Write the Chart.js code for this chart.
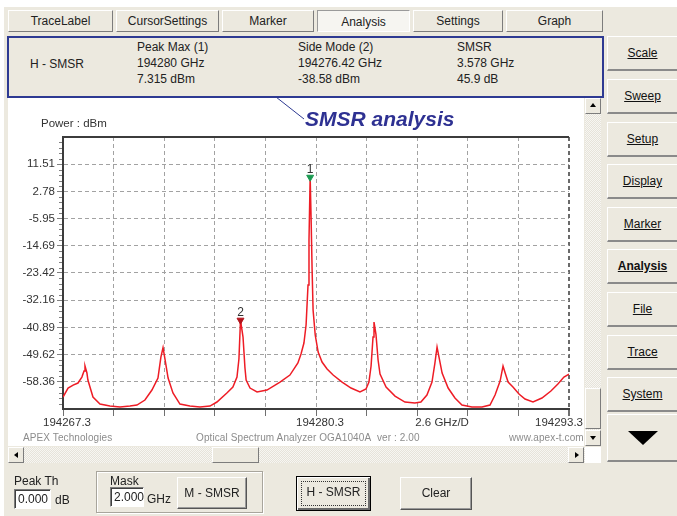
<!DOCTYPE html>
<html>
<head>
<meta charset="utf-8">
<script src="https://cdn.jsdelivr.net/npm/chart.js@4.4.0/dist/chart.umd.min.js"></script>
<style>
body { margin:0; width:677px; height:516px; background:#fff; position:relative; overflow:hidden;
       font-family:"Liberation Sans", Arial, sans-serif; font-size:12px; color:#222; }
.a { position:absolute; }
#win { left:4px; top:7px; width:673px; height:509px; background:#ece9df; }
.tab { position:absolute; top:10px; height:22px; box-sizing:border-box; background:#ece9df;
       border:1px solid; border-color:#fff #7c7c7c #7c7c7c #fff; text-align:center; line-height:20px; }
.tab.on { background:#f6f5f1; border-color:#9a9a9a #fff #fff #9a9a9a; line-height:22px; }
#info { left:7px; top:36px; width:597px; height:62px; box-sizing:border-box; border:2px solid #2e3a92; background:#ece9df; }
.txt { position:absolute; line-height:16px; white-space:nowrap; }
.rb { position:absolute; left:607px; width:70px; height:35px; box-sizing:border-box; background:#ece9df;
      border-top:1px solid #fff; border-left:1px solid #fff; border-bottom:2px solid #8a8a8a;
      text-align:center; line-height:33px; text-decoration:underline; color:#111; }
#plotbox { left:8px; top:98px; width:576px; height:348px; background:#fff; }
.hatch { background:repeating-conic-gradient(#f7f6f2 0 25%, #e6e3da 0 50%) 0 0/2px 2px; }
.sb { position:absolute; box-sizing:border-box; background:#ece9df; border:1px solid; border-color:#fff #7c7c7c #7c7c7c #fff; }
.arr { position:absolute; width:0; height:0; border:3px solid transparent; }
.inp { position:absolute; box-sizing:border-box; background:#fff; border:1px solid; border-color:#7c7c7c #fff #fff #7c7c7c;
       box-shadow:inset 1px 1px #404040; padding-left:3px; line-height:18px; }
.btn { position:absolute; box-sizing:border-box; background:#ece9df; border:1px solid; border-color:#fff #555 #555 #fff;
       box-shadow:inset -1px -1px #9a9a9a; text-align:center; }
.foot { position:absolute; top:432px; font-size:10px; color:#8c8c8c; white-space:nowrap; letter-spacing:0.1px; }
</style>
</head>
<body>
<div id="win" class="a"></div>

<div class="tab" style="left:8px;width:105px;">TraceLabel</div>
<div class="tab" style="left:116px;width:103px;">CursorSettings</div>
<div class="tab" style="left:222px;width:92px;">Marker</div>
<div class="tab on" style="left:317px;width:93px;">Analysis</div>
<div class="tab" style="left:413px;width:90px;">Settings</div>
<div class="tab" style="left:506px;width:97px;">Graph</div>

<div id="info" class="a"></div>
<div class="txt" style="left:30px;top:56px;">H - SMSR</div>
<div class="txt" style="left:137px;top:39px;">Peak Max (1)</div>
<div class="txt" style="left:137px;top:55px;">194280 GHz</div>
<div class="txt" style="left:137px;top:71px;">7.315 dBm</div>
<div class="txt" style="left:298px;top:39px;">Side Mode (2)</div>
<div class="txt" style="left:298px;top:55px;">194276.42 GHz</div>
<div class="txt" style="left:298px;top:71px;">-38.58 dBm</div>
<div class="txt" style="left:457px;top:39px;">SMSR</div>
<div class="txt" style="left:457px;top:55px;">3.578 GHz</div>
<div class="txt" style="left:457px;top:71px;">45.9 dB</div>

<div class="rb" style="top:36px;">Scale</div>
<div class="rb" style="top:79px;">Sweep</div>
<div class="rb" style="top:122px;">Setup</div>
<div class="rb" style="top:164px;">Display</div>
<div class="rb" style="top:207px;">Marker</div>
<div class="rb" style="top:249px;font-weight:bold;">Analysis</div>
<div class="rb" style="top:292px;">File</div>
<div class="rb" style="top:335px;">Trace</div>
<div class="rb" style="top:377px;">System</div>
<div class="rb" style="top:414px;height:48px;text-decoration:none;">
  <div class="arr" style="left:20px;top:16px;border-width:14px 15px 0 15px;border-top-color:#000;"></div>
</div>

<div id="plotbox" class="a">
  <canvas id="osaChart" width="576" height="348"></canvas>
</div>

<!-- vertical scrollbar -->
<div class="a hatch" style="left:585px;top:98px;width:16px;height:348px;"></div>
<div class="sb" style="left:585px;top:98px;width:16px;height:16px;">
  <div class="arr" style="left:4px;top:4px;border-width:0 3px 4px 3px;border-bottom-color:#000;"></div>
</div>
<div class="sb" style="left:585px;top:388px;width:16px;height:41px;"></div>
<div class="sb" style="left:585px;top:430px;width:16px;height:16px;">
  <div class="arr" style="left:4px;top:5px;border-width:4px 3px 0 3px;border-top-color:#000;"></div>
</div>

<!-- horizontal scrollbar -->
<div class="a hatch" style="left:8px;top:447px;width:577px;height:16px;"></div>
<div class="sb" style="left:8px;top:447px;width:16px;height:16px;">
  <div class="arr" style="left:5px;top:4px;border-width:3px 4px 3px 0;border-right-color:#000;"></div>
</div>
<div class="sb" style="left:212px;top:447px;width:47px;height:16px;"></div>
<div class="sb" style="left:568px;top:447px;width:16px;height:16px;">
  <div class="arr" style="left:6px;top:4px;border-width:3px 0 3px 4px;border-left-color:#000;"></div>
</div>
<div class="a" style="left:585px;top:447px;width:16px;height:16px;background:#fff;"></div>

<!-- chart footer texts -->
<div class="foot" style="left:23px;">APEX Technologies</div>
<div class="foot" style="left:196px;">Optical Spectrum Analyzer OGA1040A&nbsp;&nbsp;ver : 2.00</div>
<div class="foot" style="left:509px;">www.apex-t.com</div>

<!-- annotation -->
<svg class="a" style="left:0;top:0;" width="677" height="516">
  <line x1="276" y1="97" x2="304" y2="119" stroke="#2e3a92" stroke-width="1"/>
</svg>
<div class="a" style="left:305px;top:108px;font-size:21px;line-height:21px;font-weight:bold;font-style:italic;color:#2e3192;white-space:nowrap;">SMSR analysis</div>

<!-- bottom controls -->
<div class="txt" style="left:14px;top:473px;">Peak Th</div>
<div class="inp" style="left:14px;top:489px;width:37px;height:20px;">0.000</div>
<div class="txt" style="left:55px;top:492px;">dB</div>

<div class="a" style="left:96px;top:471px;width:167px;height:42px;box-sizing:border-box;border:1px solid #a8a59c;box-shadow:inset 1px 1px #fff, 1px 1px #fff;"></div>
<div class="txt" style="left:110px;top:473px;">Mask</div>
<div class="inp" style="left:110px;top:487px;width:34px;height:20px;">2.000</div>
<div class="txt" style="left:147px;top:491px;">GHz</div>
<div class="btn" style="left:177px;top:477px;width:70px;height:32px;line-height:30px;">M - SMSR</div>

<div class="btn" style="left:296px;top:476px;width:75px;height:35px;line-height:31px;border:1px solid #000;box-shadow:inset 1px 1px #fff, inset -2px -2px #6a6a6a;">
  <div class="a" style="left:4px;top:4px;right:4px;bottom:4px;border:1px dotted #333;"></div>H - SMSR</div>
<div class="btn" style="left:400px;top:477px;width:72px;height:33px;line-height:31px;">Clear</div>

<script>
// spectrum trace (GHz, dBm)
const freqGHz = [
  194267.30, 194267.56, 194267.82, 194268.07, 194268.27, 194268.38, 194268.43, 194268.53, 194268.58, 194268.84,
  194269.20, 194269.71, 194270.23, 194270.74, 194271.10, 194271.51, 194271.87, 194272.18, 194272.33, 194272.44,
  194272.54, 194272.70, 194272.95, 194273.31, 194273.82, 194274.34, 194274.85, 194275.21, 194275.72, 194276.03,
  194276.24, 194276.34, 194276.42, 194276.55, 194276.65, 194276.71, 194276.91, 194277.27, 194277.78, 194278.45,
  194278.96, 194279.37, 194279.53, 194279.68, 194279.79, 194279.89, 194279.94, 194280.00, 194280.05, 194280.10,
  194280.15, 194280.26, 194280.41, 194280.61, 194280.87, 194281.18, 194281.64, 194282.10, 194282.56, 194282.87,
  194283.02, 194283.13, 194283.23, 194283.28, 194283.38, 194283.49, 194283.59, 194283.90, 194284.36, 194284.87,
  194285.38, 194285.69, 194286.00, 194286.26, 194286.41, 194286.52, 194286.62, 194286.78, 194287.09, 194287.44,
  194287.80, 194288.31, 194288.83, 194289.24, 194289.50, 194289.76, 194289.91, 194290.02, 194290.17, 194290.42,
  194290.73, 194291.04, 194291.45, 194291.91, 194292.37, 194292.73, 194293.04, 194293.30
];
const powerDbm = [
  -63.25, -60.36, -59.40, -58.75, -56.83, -54.90, -53.29, -55.54, -57.79, -63.25,
  -65.50, -66.14, -66.46, -66.14, -65.82, -64.21, -61.00, -57.15, -50.41, -47.35,
  -51.05, -57.15, -61.96, -65.50, -66.14, -66.46, -66.14, -64.85, -61.96, -60.04,
  -56.83, -51.05, -38.58, -43.98, -53.94, -57.79, -60.36, -61.64, -61.00, -58.43,
  -56.19, -52.33, -49.44, -45.91, -40.13, -27.28, -12.83, 7.315, -6.41, -22.47,
  -35.31, -43.34, -48.80, -52.01, -54.26, -56.19, -58.43, -60.36, -61.64, -60.68,
  -58.43, -53.29, -43.98, -39.16, -43.02, -51.37, -55.86, -60.04, -62.93, -64.85,
  -65.18, -64.85, -62.61, -58.43, -52.33, -47.19, -50.41, -55.54, -60.36, -63.57,
  -65.82, -66.46, -66.46, -65.82, -62.61, -58.11, -53.29, -55.54, -58.43, -60.04,
  -62.29, -63.89, -64.85, -63.57, -61.32, -59.07, -56.83, -55.86
];

// markers
const markerNames = ['1', '2'];
const markerFreq = [194280, 194276.42];
const markerPower = [7.315, -38.58];

// axes
const xMin = 194267.3, xMax = 194293.3;
const xTickValues = [194267.3, 194269.9, 194272.5, 194275.1, 194277.7, 194280.3, 194282.9, 194285.5, 194288.1, 194290.7, 194293.3];
const xTickLabels = ['194267.3', '', '', '', '', '194280.3', '', '2.6 GHz/D', '', '', '194293.3'];
const yMin = -67.09, yMax = 20.24;
const yTickValues = [-67.09, -58.36, -49.62, -40.89, -32.16, -23.42, -14.69, -5.95, 2.78, 11.51, 20.24];
const yTickLabels = ['', '-58.36', '-49.62', '-40.89', '-32.16', '-23.42', '-14.69', '-5.95', '2.78', '11.51', ''];

const FONT = '"Liberation Sans", Arial, sans-serif';
const GRID = '#a2a2a2';

// frame, minor ticks, x labels, marker numbers
const osaDecor = {
    id: 'osaDecor',
    afterDraw(chart) {
        const { ctx, chartArea: a, scales: { x, y } } = chart;
        ctx.save();
        ctx.strokeStyle = '#3c3c3c';
        ctx.lineWidth = 2;
        ctx.beginPath();
        ctx.moveTo(a.left - 1, a.top);
        ctx.lineTo(a.right, a.top);
        ctx.stroke();

        // minor ticks on the power axis
        ctx.lineWidth = 1;
        ctx.strokeStyle = '#808080';
        for (let i = 0; i < yTickValues.length - 1; i++) {
            const lo = yTickValues[i], hi = yTickValues[i + 1];
            for (let k = 1; k < 5; k++) {
                const py = Math.round(y.getPixelForValue(lo + (hi - lo) * k / 5)) + 0.5;
                ctx.beginPath();
                ctx.moveTo(a.left - 4, py);
                ctx.lineTo(a.left - 1, py);
                ctx.stroke();
            }
        }

        ctx.fillStyle = '#333';
        ctx.font = '11.5px ' + FONT;
        ctx.textBaseline = 'middle';
        ctx.textAlign = 'left';
        ctx.fillText('Power : dBm', a.left - 22, a.top - 13);

        // frequency labels
        xTickLabels.forEach((lbl, i) => {
            if (!lbl) return;
            let px = x.getPixelForValue(xTickValues[i]);
            if (i === xTickLabels.length - 1) {
                ctx.textAlign = 'right';
                px = chart.width - 1;
            } else if (lbl.indexOf('/') >= 0) {
                ctx.textAlign = 'left';
                px -= 2;
            } else {
                ctx.textAlign = 'center';
                px += 4;
            }
            ctx.fillText(lbl, px, a.bottom + 14);
        });

        // marker numbers
        const meta = chart.getDatasetMeta(1);
        ctx.textAlign = 'center';
        ctx.font = '12px ' + FONT;
        meta.data.forEach((pt, i) => {
            ctx.fillText(markerNames[i], pt.x, pt.y - 8);
        });
        ctx.restore();
    }
};

const ctx = document.getElementById('osaChart').getContext('2d');
new Chart(ctx, {
    type: 'line',
    data: {
        datasets: [{
            label: 'Trace',
            data: freqGHz.map((f, i) => ({ x: f, y: powerDbm[i] })),
            borderColor: '#ee1c25',
            borderWidth: 1.5,
            pointRadius: 0,
            tension: 0,
            order: 2
        }, {
            type: 'scatter',
            label: 'Markers',
            data: markerFreq.map((f, i) => ({ x: f, y: markerPower[i] })),
            pointStyle: 'triangle',
            rotation: 180,
            pointRadius: 4,
            backgroundColor: ['#1c9a52', '#b3141c'],
            borderColor: ['#1c9a52', '#b3141c'],
            borderWidth: 1,
            order: 1
        }]
    },
    options: {
        responsive: false,
        animation: false,
        layout: { padding: { left: 0, top: 39, right: 15, bottom: 0 } },
        plugins: {
            legend: { display: false },
            tooltip: { enabled: false }
        },
        scales: {
            x: {
                type: 'linear',
                min: xMin,
                max: xMax,
                afterBuildTicks: s => { s.ticks = xTickValues.map(v => ({ value: v })); },
                afterFit: s => { s.height = 37; },
                ticks: { display: false },
                grid: {
                    color: c => c.index === 0 ? 'rgba(0,0,0,0)' : (c.index === xTickValues.length - 1 ? '#6a6a6a' : GRID),
                    lineWidth: c => c.index === xTickValues.length - 1 ? 2 : 1,
                    tickLength: 7,
                    tickColor: '#707070'
                },
                border: { color: '#3c3c3c', width: 2, dash: [4, 3] }
            },
            y: {
                type: 'linear',
                min: yMin,
                max: yMax,
                afterBuildTicks: s => { s.ticks = yTickValues.map(v => ({ value: v })); },
                afterFit: s => { s.width = 55; },
                ticks: {
                    autoSkip: false,
                    padding: 2,
                    color: '#333',
                    font: { family: FONT, size: 11.5 },
                    callback: v => {
                        const i = yTickValues.findIndex(t => Math.abs(t - v) < 1e-6);
                        return i >= 0 ? yTickLabels[i] : '';
                    }
                },
                grid: {
                    color: c => (c.index === 0 || c.index === yTickValues.length - 1) ? 'rgba(0,0,0,0)' : GRID,
                    tickColor: c => (c.index === 0 || c.index === yTickValues.length - 1) ? 'rgba(0,0,0,0)' : '#808080',
                    tickLength: 6
                },
                border: { color: '#3c3c3c', width: 2, dash: [4, 3] }
            }
        }
    },
    plugins: [osaDecor]
});
</script>
</body>
</html>
